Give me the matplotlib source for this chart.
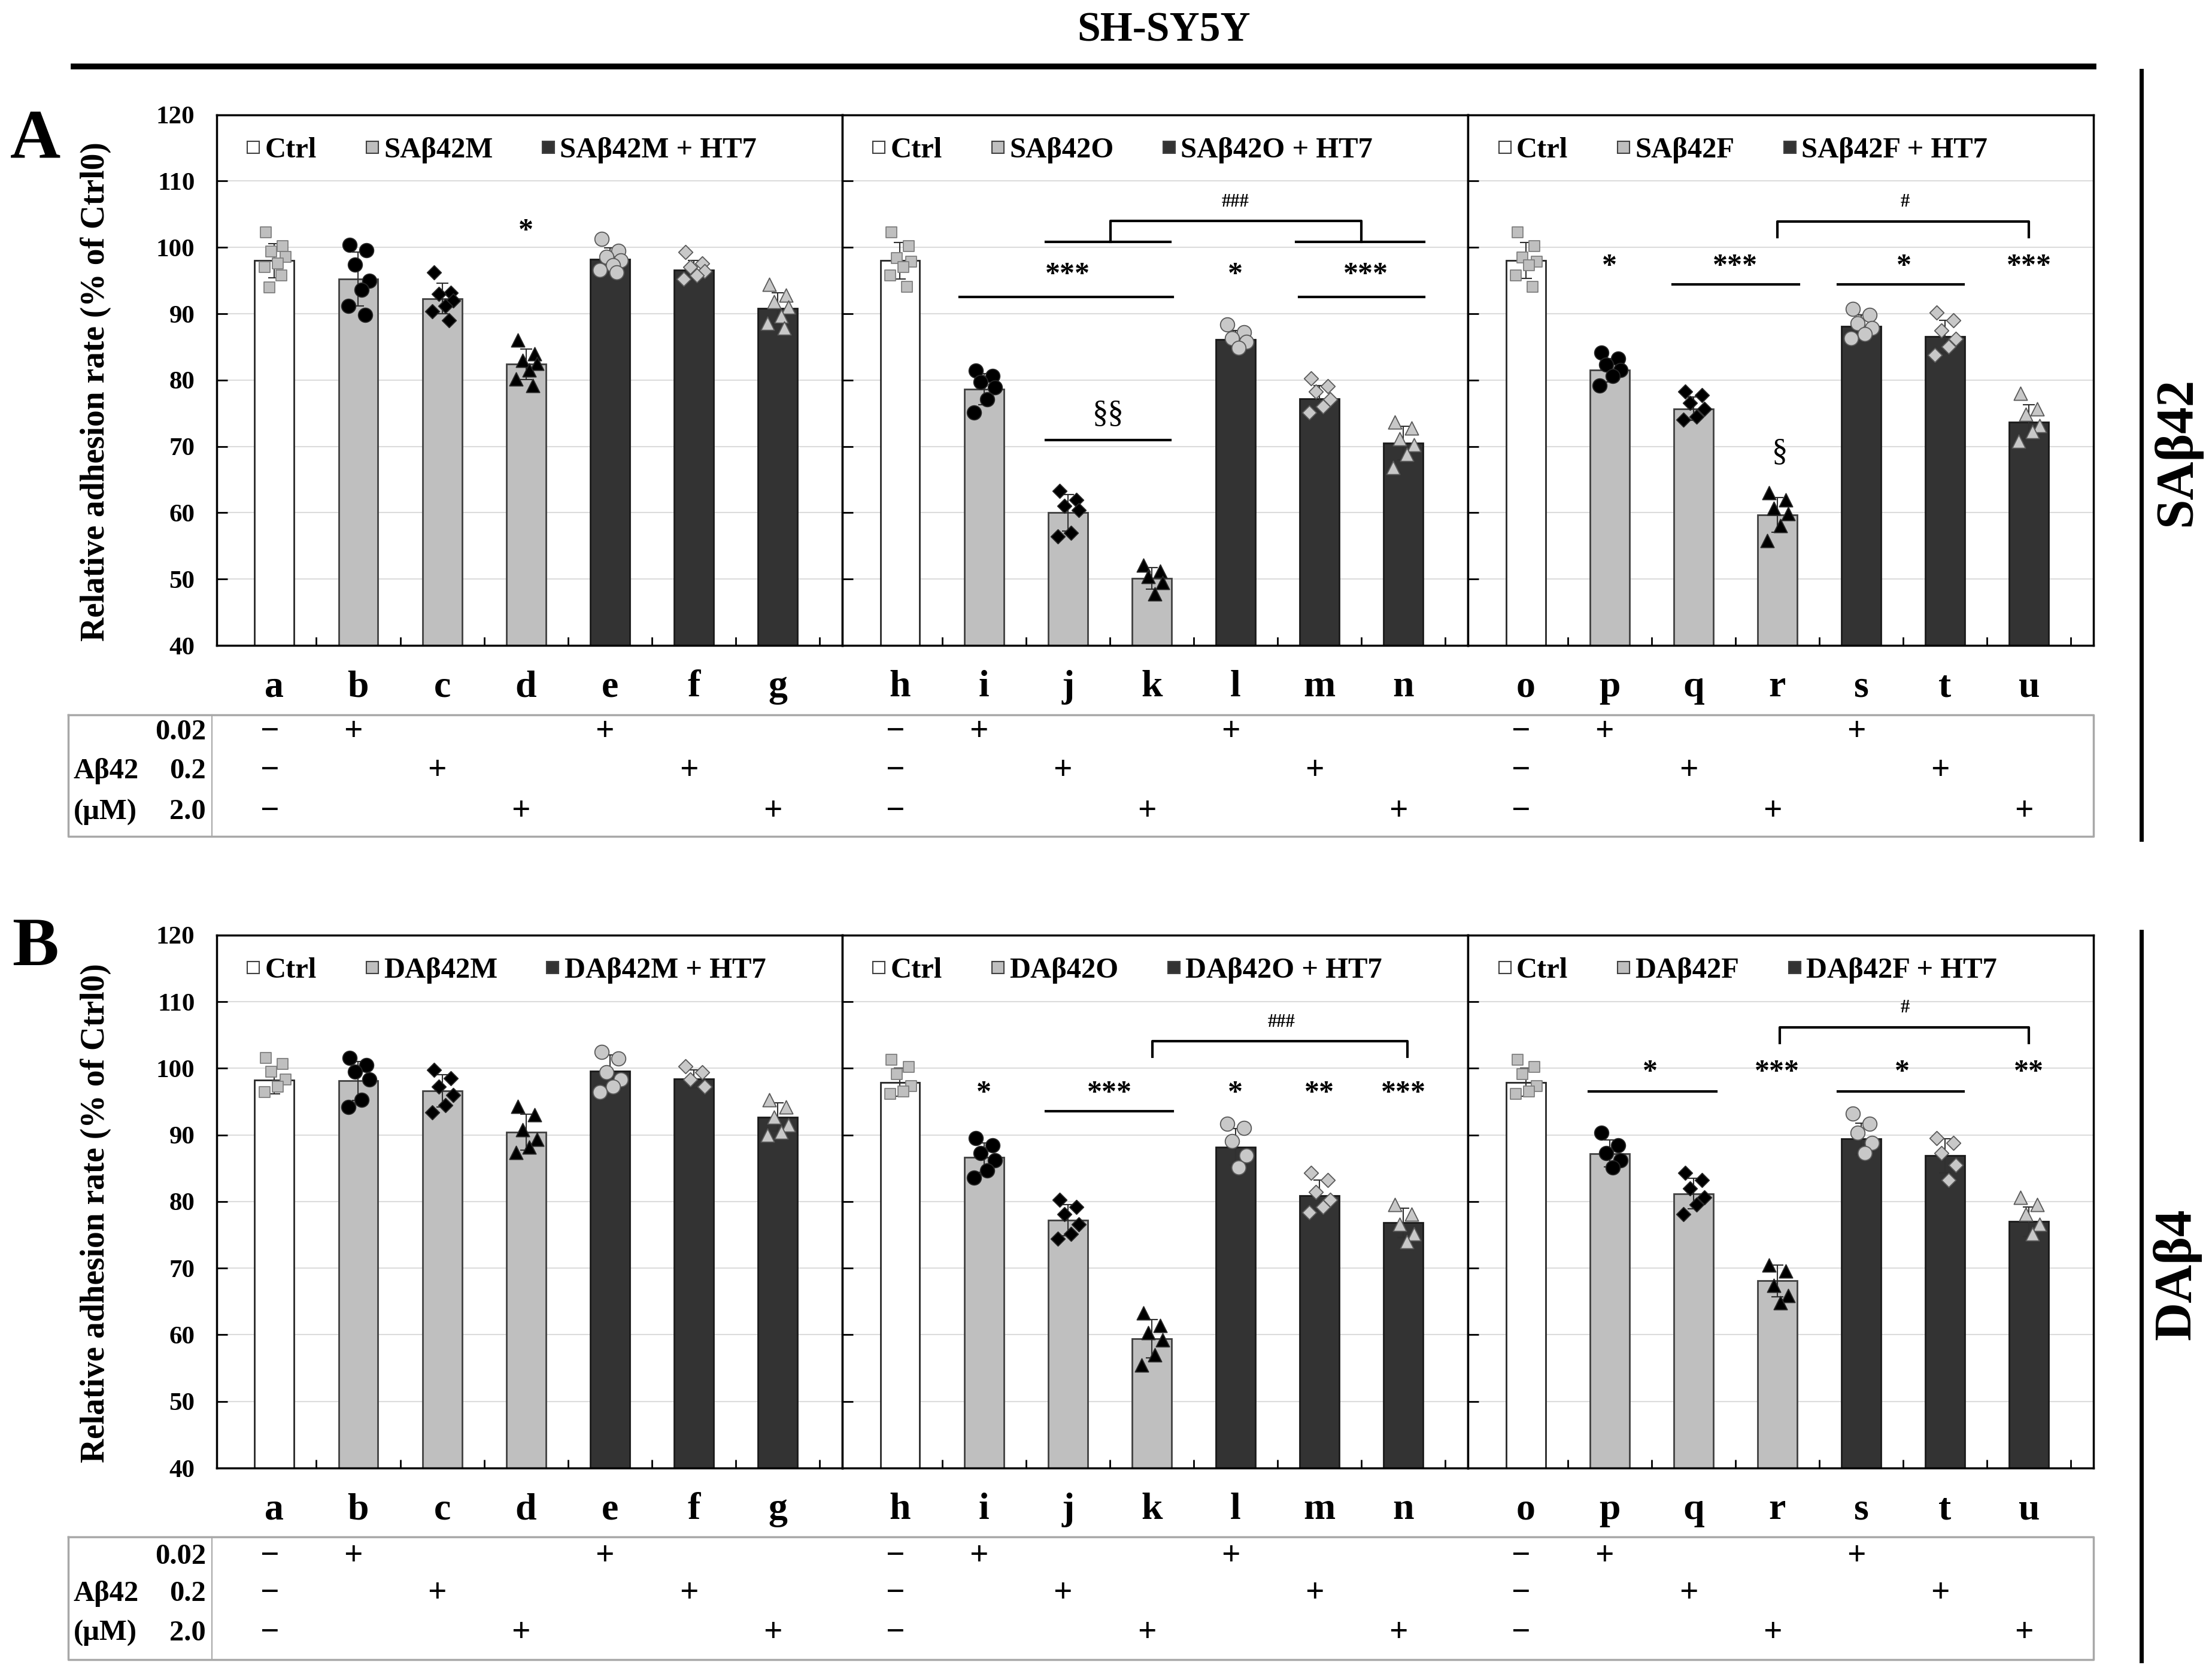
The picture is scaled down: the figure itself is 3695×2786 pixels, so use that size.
import numpy as np
import matplotlib
matplotlib.use("Agg")
import matplotlib.pyplot as plt
from matplotlib.lines import Line2D
import matplotlib.transforms as mtransforms

plt.rcParams['font.family'] = ['Liberation Serif', 'DejaVu Serif']
plt.rcParams['font.weight'] = 'bold'

########################################################################################################################
# Data
########################################################################################################################

letters_rows = [list('abcdefg'), list('hijklmn'), list('opqrstu')]

legend_SA = [['Ctrl', 'SAβ42M', 'SAβ42M + HT7'],
             ['Ctrl', 'SAβ42O', 'SAβ42O + HT7'],
             ['Ctrl', 'SAβ42F', 'SAβ42F + HT7']]
legend_DA = [['Ctrl', 'DAβ42M', 'DAβ42M + HT7'],
             ['Ctrl', 'DAβ42O', 'DAβ42O + HT7'],
             ['Ctrl', 'DAβ42F', 'DAβ42F + HT7']]

means_SA = [[98.0, 95.2, 92.3, 82.4, 98.2, 96.6, 90.8],
            [98.0, 78.6, 60.0, 50.1, 86.1, 77.2, 70.5],
            [98.0, 81.5, 75.7, 59.7, 88.1, 86.6, 73.7]]
means_DA = [[98.2, 98.1, 96.6, 90.4, 99.6, 98.4, 92.7],
            [97.9, 86.6, 77.2, 59.4, 88.2, 80.9, 76.8],
            [97.9, 87.2, 81.2, 68.1, 89.4, 86.9, 77.0]]

points_SA = [
    [[102.3, 100.2, 99.4, 98.6, 97.6, 97.0, 95.8, 94.0],
     [100.4, 99.6, 97.4, 95.0, 93.6, 91.2, 89.8],
     [96.2, 93.2, 93.0, 92.0, 91.2, 90.4, 89.0],
     [86.0, 84.0, 83.0, 82.5, 81.5, 80.2, 79.2],
     [101.3, 99.5, 98.6, 98.0, 97.3, 96.6, 96.2],
     [99.3, 97.6, 97.0, 96.4, 95.8, 95.2],
     [94.4, 92.8, 91.8, 91.0, 89.6, 88.6, 87.8]],
    [[102.3, 100.2, 98.4, 97.9, 97.0, 95.8, 94.1],
     [81.4, 80.6, 79.7, 78.9, 77.1, 75.1],
     [63.3, 61.9, 61.0, 60.4, 57.0, 56.4],
     [52.1, 51.2, 50.4, 49.5, 47.8],
     [88.4, 87.2, 86.3, 85.8, 84.9],
     [80.3, 79.1, 78.3, 77.1, 76.0, 75.1],
     [73.7, 72.8, 71.1, 70.2, 68.8, 66.8]],
    [[102.3, 100.2, 98.5, 97.9, 97.3, 95.8, 94.1],
     [84.1, 83.2, 82.3, 81.5, 80.6, 79.2],
     [78.3, 77.7, 76.6, 75.7, 74.5, 74.0],
     [63.0, 61.9, 60.7, 59.9, 58.1, 55.8],
     [90.7, 89.8, 88.6, 87.8, 86.9, 86.3],
     [90.2, 89.0, 87.5, 86.2, 85.0, 83.8],
     [78.0, 75.7, 74.8, 73.1, 72.2, 70.8]],
]
points_DA = [
    [[101.6, 100.7, 99.5, 98.3, 97.2, 96.4],
     [101.6, 100.5, 99.5, 98.3, 95.3, 94.2],
     [99.8, 98.5, 97.2, 96.0, 94.5, 93.4],
     [94.3, 93.0, 90.8, 89.3, 88.2, 87.4],
     [102.5, 101.5, 99.4, 98.3, 97.2, 96.4],
     [100.3, 99.4, 98.3, 97.2],
     [95.3, 94.2, 92.7, 91.5, 90.4, 90.0]],
    [[101.3, 100.2, 99.1, 97.3, 96.5, 96.2],
     [89.5, 88.4, 87.3, 86.2, 84.7, 83.6],
     [80.3, 79.2, 78.1, 76.6, 75.1, 74.4],
     [63.3, 61.4, 60.3, 59.2, 57.0, 55.5],
     [91.7, 91.0, 89.1, 86.9, 85.1],
     [84.3, 83.2, 81.4, 80.3, 79.2, 78.4],
     [79.5, 78.1, 76.6, 75.1, 74.0]],
    [[101.3, 100.2, 99.1, 97.3, 96.5, 96.2],
     [90.3, 88.4, 87.3, 86.2, 85.1],
     [84.3, 83.2, 82.0, 80.6, 79.5, 78.1],
     [70.5, 69.6, 67.4, 65.9, 64.8],
     [93.2, 91.7, 90.3, 88.8, 87.3],
     [89.5, 88.8, 87.3, 85.5, 83.2],
     [80.6, 79.5, 78.1, 76.6, 75.1]],
]

# significance marks: (x, y, text)
stars_SA = [[(3, 102.4, '*')],
            [(2.0, 95.8, '***'), (4.0, 95.8, '*'), (5.55, 95.8, '***')],
            [(1.0, 97.0, '*'), (2.5, 97.0, '***'), (4.51, 97.0, '*'), (6.0, 97.0, '***')]]
stars_DA = [[],
            [(1.0, 96.2, '*'), (2.5, 96.2, '***'), (4.0, 96.2, '*'), (5.0, 96.2, '**'), (6.0, 96.2, '***')],
            [(1.48, 99.3, '*'), (3.0, 99.3, '***'), (4.49, 99.3, '*'), (6.0, 99.3, '**')]]
# horizontal lines: (x0, x1, y)
lines_SA = [[],
            [(0.71, 3.25, 92.5), (4.76, 6.25, 92.5), (1.74, 3.22, 100.85), (4.72, 6.25, 100.85), (1.74, 3.22, 71.0)],
            [(1.75, 3.26, 94.4), (3.72, 5.22, 94.4)]]
lines_DA = [[],
            [(1.74, 3.25, 93.6)],
            [(0.75, 2.27, 96.5), (3.72, 5.22, 96.5)]]
# brackets: (x0, x1, ytop, ybottom)
brackets_SA = [[], [(2.51, 5.5, 104.0, 100.85)], [(3.0, 6.0, 103.9, 101.6)]]
brackets_DA = [[], [(3.01, 6.05, 104.1, 101.7)], [(3.03, 6.0, 106.1, 103.8)]]
# small hash marks and section marks: (x, y, text)
hash_SA = [[], [(4.0, 106.8, '###')], [(4.52, 106.8, '#')]]
hash_DA = [[], [(4.55, 106.9, '###')], [(4.52, 109.1, '#')]]
sect_SA = [[], [(2.48, 74.8, '§§')], [(3.03, 69.1, '§')]]
sect_DA = [[], [], []]

dose_labels = ['0.02', '0.2', '2.0']
dose_rows = [['−', '+', '', '', '+', '', ''],
             ['−', '', '+', '', '', '+', ''],
             ['−', '', '', '+', '', '', '+']]

########################################################################################################################
# Styles
########################################################################################################################

bar_face = ['white', '#bfbfbf', '#bfbfbf', '#bfbfbf', '#333333', '#333333', '#333333']
bar_edge = ['#262626', '#404040', '#404040', '#404040', '#1a1a1a', '#1a1a1a', '#1a1a1a']
pt_marker = ['s', 'o', 'D', '^', 'o', 'D', '^']
pt_size = [13, 17, 12, 16, 17, 12, 16]
pt_face = ['#bfbfbf', 'black', 'black', 'black', '#c8c8c8', '#c8c8c8', '#c8c8c8']
pt_edge = ['#7f7f7f', '#262626', '#262626', '#262626', '#595959', '#595959', '#595959']
jitter = [-0.10, 0.10, -0.04, 0.13, 0.04, -0.12, 0.08, -0.06]

W, H = 3695, 2786
fig = plt.figure(figsize=(W / 100, H / 100), dpi=100)


def fx(xs):
    # shrunk-reference x (1568 wide) to figure fraction
    return xs / 1568.0


def fy(ys):
    return 1 - ys / 1182.0


def draw_sub(ax, means, points, labels, letters, stars, lines, brackets, hashes, sects, first):
    x = np.arange(7)
    ax.bar(x, means, width=0.47, color=bar_face, edgecolor=bar_edge, linewidth=2, zorder=2)
    sd = [np.std(p, ddof=1) for p in points]
    ax.errorbar(x, means, yerr=sd, fmt='none', ecolor='#303030', elinewidth=1.5, capsize=7, capthick=1.5, zorder=3)
    for i, vals in enumerate(points):
        xs = [i + jitter[j % len(jitter)] for j in range(len(vals))]
        ax.scatter(xs, vals, marker=pt_marker[i], s=pt_size[i] ** 2, facecolor=pt_face[i],
                   edgecolor=pt_edge[i], linewidth=1.3, zorder=4)

    ax.set_xlim(-0.69, 6.77)
    ax.set_ylim(40, 120)
    ax.set_yticks(np.arange(40, 121, 10))
    for yv in range(50, 120, 10):
        ax.axhline(yv, color='#dcdcdc', lw=1.5, zorder=0)
    ax.set_xticks([])
    ax.set_xticks(np.arange(0.5, 7, 1), minor=True)
    ax.tick_params(axis='x', which='minor', direction='in', length=10, width=2)
    ax.tick_params(axis='y', direction='in', length=13, width=2, labelsize=31, pad=26)
    if not first:
        ax.set_yticklabels([])
    for s in ax.spines.values():
        s.set_linewidth(2.5)

    handles = [Line2D([], [], marker='s', ls='none', markersize=14, markerfacecolor=c,
                      markeredgecolor='#404040', markeredgewidth=1.5)
               for c in ['white', '#bfbfbf', '#333333']]
    ax.legend(handles, labels, ncol=3, loc='upper left', bbox_to_anchor=(0.045, 0.958), frameon=False,
              prop={'size': 35, 'weight': 'bold'}, handletextpad=0.1, columnspacing=1.6,
              handlelength=0.6, borderaxespad=0, borderpad=0)

    for (xx, yy, t) in stars:
        ax.text(xx, yy, t, ha='center', va='center', fontsize=36, zorder=5)
    for (x0, x1, yy) in lines:
        ax.plot([x0, x1], [yy, yy], color='black', lw=3, zorder=5)
    for (x0, x1, yt, yb) in brackets:
        ax.plot([x0, x0, x1, x1], [yb, yt, yt, yb], color='black', lw=3, zorder=5)
    for (xx, yy, t) in hashes:
        ax.text(xx, yy, t, ha='center', va='center', fontsize=22, zorder=5)
    for (xx, yy, t) in sects:
        ax.text(xx, yy, t, ha='center', va='center', fontsize=38, fontweight='normal', zorder=5)

    for i, lt in enumerate(letters):
        ax.text(i, -0.096, lt, transform=ax.get_xaxis_transform(), ha='center', va='baseline',
                fontsize=46)


def draw_table(axes, top, bottom, rows_y):
    tf = fig.transFigure
    lc = '#a8a8a8'
    x0, x1, xd = fx(48.5), fx(1484), fx(150.4)
    fig.add_artist(Line2D([x0, x1, x1, x0, x0], [fy(top), fy(top), fy(bottom), fy(bottom), fy(top)],
                          transform=tf, color=lc, lw=2.5))
    fig.add_artist(Line2D([xd, xd], [fy(top), fy(bottom)], transform=tf, color=lc, lw=1.5))
    for r, lab in enumerate(dose_labels):
        fig.text(fx(146), fy(rows_y[r]), lab, ha='right', va='center', fontsize=35)
    fig.text(fx(52), fy(rows_y[1]), 'Aβ42', ha='left', va='center', fontsize=35)
    fig.text(fx(52), fy(rows_y[2]), '(μM)', ha='left', va='center', fontsize=35)
    for ax in axes:
        tr = mtransforms.blended_transform_factory(ax.transData, tf)
        for r, row in enumerate(dose_rows):
            for i, s in enumerate(row):
                if s:
                    fig.text(i - 0.06, fy(rows_y[r]), s, transform=tr, ha='center', va='center', fontsize=40)


lefts = [153.5, 597.0, 1040.5]
wid = 443.5

panels = [
    (81.3, 457.4, means_SA, points_SA, legend_SA, stars_SA, lines_SA, brackets_SA, hash_SA, sect_SA,
     (506.7, 592.7, [519, 546.5, 575.5])),
    (662.6, 1040.3, means_DA, points_DA, legend_DA, stars_DA, lines_DA, brackets_DA, hash_DA, sect_DA,
     (1089, 1176, [1103, 1129.5, 1157.5])),
]

for (top, bot, means, points, legs, stars, lines, brackets, hashes, sects, tab) in panels:
    axes = []
    for k in range(3):
        ax = fig.add_axes([fx(lefts[k]), fy(bot), fx(wid), (bot - top) / 1182.0])
        draw_sub(ax, means[k], points[k], legs[k], letters_rows[k], stars[k], lines[k],
                 brackets[k], hashes[k], sects[k], k == 0)
        axes.append(ax)
    draw_table(axes, tab[0], tab[1], tab[2])
    fig.text(fx(68), fy((top + bot) / 2 + 8), 'Relative adhesion rate (% of Ctrl0)', rotation=90,
             ha='center', va='center', fontsize=40)

# panel letters, title and side labels
fig.text(fx(25), fy(100), 'A', ha='center', va='center', fontsize=84)
fig.text(fx(25), fy(672), 'B', ha='center', va='center', fontsize=84)
fig.text(fx(825), fy(22), 'SH-SY5Y', ha='center', va='center', fontsize=50)
fig.add_artist(Line2D([fx(52), fx(1484)], [fy(47), fy(47)], transform=fig.transFigure, color='black', lw=7))
fig.add_artist(Line2D([fx(1518), fx(1518)], [fy(50), fy(595)], transform=fig.transFigure, color='black', lw=5))
fig.add_artist(Line2D([fx(1518), fx(1518)], [fy(660), fy(1177)], transform=fig.transFigure, color='black', lw=5))
fig.text(fx(1543), fy(320), 'SAβ42', rotation=90, ha='center', va='center', fontsize=64)
fig.text(fx(1543), fy(903), 'DAβ4', rotation=90, ha='center', va='center', fontsize=64)

fig.savefig('out.png', dpi=100, facecolor='white')
